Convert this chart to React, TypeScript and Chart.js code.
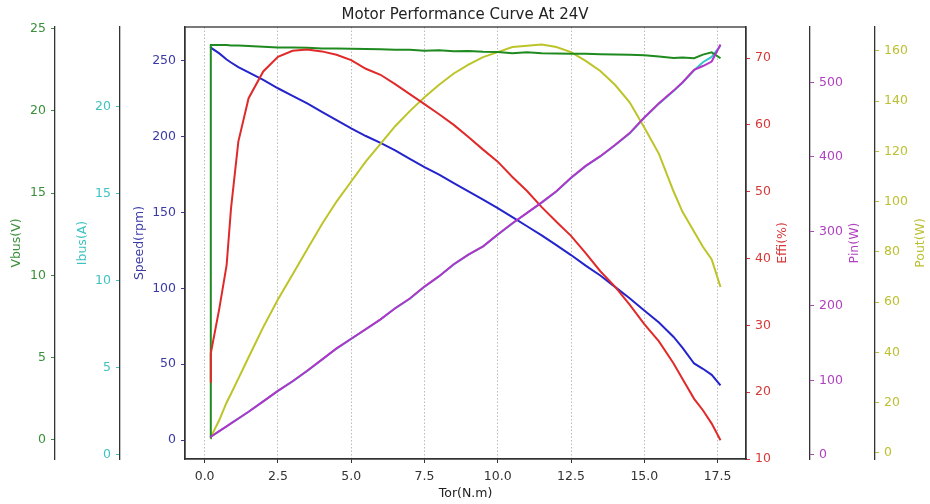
import { useEffect, useRef } from "react";
import { Chart, registerables } from "chart.js";

Chart.register(...registerables);

// ---- data ----
const torque = [0.2, 0.21, 0.5, 0.75, 0.9, 1.15, 1.5, 2.0, 2.5, 3.0, 3.5, 4.0, 4.5, 5.0, 5.5, 6.0, 6.5, 7.0, 7.5, 8.0, 8.5, 9.0, 9.5, 10.0, 10.5, 11.0, 11.5, 12.0, 12.5, 13.0, 13.5, 14.0, 14.5, 15.0, 15.5, 16.0, 16.3, 16.7, 17.0, 17.3, 17.6];
const vbus = [0.1, 24.0, 24.0, 24.0, 23.98, 23.98, 23.95, 23.9, 23.86, 23.85, 23.84, 23.8, 23.79, 23.78, 23.76, 23.74, 23.71, 23.72, 23.66, 23.69, 23.63, 23.64, 23.6, 23.58, 23.5, 23.56, 23.5, 23.49, 23.48, 23.47, 23.45, 23.43, 23.41, 23.38, 23.3, 23.22, 23.25, 23.2, 23.42, 23.56, 23.2];
const ibus = [1.03, 1.05, 1.37, 1.65, 1.82, 2.09, 2.48, 3.08, 3.68, 4.23, 4.83, 5.47, 6.11, 6.67, 7.22, 7.78, 8.42, 8.97, 9.66, 10.26, 10.94, 11.5, 11.97, 12.65, 13.29, 13.89, 14.49, 15.13, 15.9, 16.58, 17.14, 17.78, 18.46, 19.36, 20.17, 20.9, 21.37, 22.09, 22.55, 22.85, 23.5];
const speed = [259, 258.8, 255, 251, 249, 246, 242.5, 237.5, 232, 227, 222, 216.5, 211, 205.5, 200.5, 196, 191, 185.5, 180, 175, 169.5, 164, 158.5, 153, 147, 141, 135, 128.5, 122, 115, 108.5, 101, 93.5, 85.5, 77.5, 68, 61, 50.5, 47, 43, 36];
const effi = [21.5, 25.8, 32.5, 39, 47.5, 57.5, 64, 68, 70.2, 71.1, 71.3, 71.0, 70.5, 69.7, 68.4, 67.5, 66.1, 64.6, 63.1, 61.6, 60.0, 58.2, 56.3, 54.5, 52.2, 50.1, 47.7, 45.5, 43.4, 40.8, 38.1, 35.8, 33.1, 30.2, 27.6, 24.3, 22.0, 19.0, 17.3, 15.3, 12.8];
const pin = [24, 24.5, 32, 38.5, 42.5, 49, 58, 72, 86, 99, 113, 128, 143, 156, 169, 182, 197, 210, 226, 240, 256, 269, 280, 296, 311, 325, 339, 354, 372, 388, 401, 416, 432, 453, 472, 489, 500, 517, 522, 528, 551];
const pout = [6, 6.2, 13, 20, 23.5, 29.5, 38, 50, 61, 71, 81, 91, 100, 108, 116, 123, 130, 136, 141.5, 146.5, 151, 154.5, 157.5, 159.5, 161.5, 162, 162.5, 161.5, 159.5, 156, 152, 146.5, 139.5, 129.5, 119, 104, 96, 88, 82, 77, 66];

const xTicks = [0, 2.5, 5, 7.5, 10, 12.5, 15, 17.5];
const vbusTicks = [0, 5, 10, 15, 20, 25];
const ibusTicks = [0, 5, 10, 15, 20];
const speedTicks = [0, 50, 100, 150, 200, 250];
const effiTicks = [10, 20, 30, 40, 50, 60, 70];
const pinTicks = [0, 100, 200, 300, 400, 500];
const poutTicks = [0, 20, 40, 60, 80, 100, 120, 140, 160];

const TITLE = "Motor Performance Curve At 24V";
const X_TITLE = "Tor(N.m)";

// ---- styles ----
const FONT = "'DejaVu Sans', sans-serif";
const AXIS = "#333333";
const C = {
  vbus: { line: "#1f8a1f", text: "#3a8f3a" },
  ibus: { line: "#33c6cc", text: "#3fc2c2" },
  speed: { line: "#2424cc", text: "#3a3aa6" },
  effi: { line: "#e02a2a", text: "#d63838" },
  pin: { line: "#b433c8", text: "#b040c0" },
  pout: { line: "#bcc428", text: "#bcc030" },
};

const yTitles = [
  { id: "yV", text: "Vbus(V)", color: C.vbus.text, side: "left", dist: 38 },
  { id: "yI", text: "Ibus(A)", color: C.ibus.text, side: "left", dist: 37 },
  { id: "yS", text: "Speed(rpm)", color: C.speed.text, side: "left", dist: 45 },
  { id: "yE", text: "Effi(%)", color: C.effi.text, side: "right", dist: 37 },
  { id: "yP", text: "Pin(W)", color: C.pin.text, side: "right", dist: 45 },
  { id: "yO", text: "Pout(W)", color: C.pout.text, side: "right", dist: 46 },
];

function yAxis(position: string, color: string, ticks: number[], min: number, max: number, width: number, weight: number) {
  return {
    type: "linear",
    position,
    min,
    max,
    weight,
    afterBuildTicks: (s: any) => {
      s.ticks = ticks.map((v) => ({ value: v }));
    },
    afterFit: (s: any) => {
      s.width = width;
    },
    ticks: {
      color,
      font: { size: 12.5, family: FONT },
      padding: 5,
      autoSkip: false,
      callback: (v: any) => String(v),
    },
    grid: {
      display: true,
      drawOnChartArea: false,
      drawTicks: true,
      tickLength: 4,
      tickColor: color,
      tickWidth: 1,
    },
    border: { display: true, color: AXIS, width: 1.3 },
    title: { display: false },
  };
}

const framePlugin = {
  id: "frameAndTitles",
  afterDraw(chart: any) {
    const { ctx, chartArea } = chart;
    ctx.save();
    ctx.strokeStyle = AXIS;
    ctx.lineWidth = 1.3;
    ctx.strokeRect(chartArea.left, chartArea.top, chartArea.right - chartArea.left, chartArea.bottom - chartArea.top);
    const cy = (chartArea.top + chartArea.bottom) / 2;
    ctx.font = `12.5px ${FONT}`;
    ctx.textAlign = "center";
    ctx.textBaseline = "middle";
    for (const t of yTitles) {
      const s = chart.scales[t.id];
      if (!s) continue;
      const x = t.side === "left" ? s.right - t.dist : s.left + t.dist;
      ctx.save();
      ctx.translate(x, cy);
      ctx.rotate(-Math.PI / 2);
      ctx.fillStyle = t.color;
      ctx.fillText(t.text, 0, 0);
      ctx.restore();
    }
    ctx.restore();
  },
};

function series(values: number[]) {
  return torque.map((t, i) => ({ x: t, y: values[i] }));
}

export default function App() {
  const ref = useRef<HTMLCanvasElement | null>(null);

  useEffect(() => {
    if (!ref.current) return;
    const common = { borderWidth: 2, pointRadius: 0, tension: 0, fill: false };
    const chart = new Chart(ref.current, {
      type: "line",
      data: {
        datasets: [
          { ...common, label: "Pin", data: series(pin), borderColor: C.pin.line, yAxisID: "yP", order: 0 },
          { ...common, label: "Ibus", data: series(ibus), borderColor: C.ibus.line, yAxisID: "yI", order: 6 },
          { ...common, label: "Effi", data: series(effi), borderColor: C.effi.line, yAxisID: "yE", order: 1 },
          { ...common, label: "Vbus", data: series(vbus), borderColor: C.vbus.line, yAxisID: "yV", order: 2 },
          { ...common, label: "Pout", data: series(pout), borderColor: C.pout.line, yAxisID: "yO", order: 3 },
          { ...common, label: "Speed", data: series(speed), borderColor: C.speed.line, yAxisID: "yS", order: 4 },
        ] as any,
      },
      options: {
        responsive: false,
        animation: false,
        devicePixelRatio: 1,
        layout: { padding: 0 },
        plugins: {
          legend: { display: false },
          tooltip: { enabled: false },
          title: {
            display: true,
            text: TITLE,
            color: "#222222",
            font: { size: 15, weight: "normal", family: FONT, lineHeight: 1.2 },
            padding: { top: 6, bottom: 3 },
          },
        },
        scales: {
          x: {
            type: "linear",
            position: "bottom",
            min: -0.67,
            max: 18.47,
            afterBuildTicks: (s: any) => {
              s.ticks = xTicks.map((v) => ({ value: v }));
            },
            afterFit: (s: any) => {
              s.height = 45;
            },
            ticks: {
              color: "#333333",
              font: { size: 12.5, family: FONT },
              padding: 6,
              autoSkip: false,
              maxRotation: 0,
              callback: (v: any) => Number(v).toFixed(1),
            },
            grid: {
              display: true,
              drawOnChartArea: true,
              color: "rgba(160,160,160,0.9)",
              lineWidth: 0.8,
              drawTicks: true,
              tickLength: 4,
              tickColor: "#333333",
              tickWidth: 1,
            },
            border: { display: true, color: AXIS, width: 1.3, dash: [1.5, 2] },
            title: {
              display: true,
              text: X_TITLE,
              color: "#222222",
              font: { size: 12.5, family: FONT },
              padding: { top: 0, bottom: 3 },
            },
          },
          yV: yAxis("left", C.vbus.text, vbusTicks, -1.16, 25.1, 55, 3),
          yI: yAxis("left", C.ibus.text, ibusTicks, -0.23, 24.57, 65, 2),
          yS: yAxis("left", C.speed.text, speedTicks, -12.5, 272.4, 65, 1),
          yE: yAxis("right", C.effi.text, effiTicks, 10, 74.65, 64, 1),
          yP: yAxis("right", C.pin.text, pinTicks, -5.4, 574.4, 65, 2),
          yO: yAxis("right", C.pout.text, poutTicks, -2.5, 169.5, 55, 3),
        } as any,
      },
      plugins: [framePlugin],
    });
    return () => chart.destroy();
  }, []);

  return (
    <div style={{ position: "fixed", left: 0, top: 0, width: 930, height: 504, background: "#ffffff" }}>
      <canvas ref={ref} width={930} height={504} style={{ width: 930, height: 504, display: "block" }} />
    </div>
  );
}
